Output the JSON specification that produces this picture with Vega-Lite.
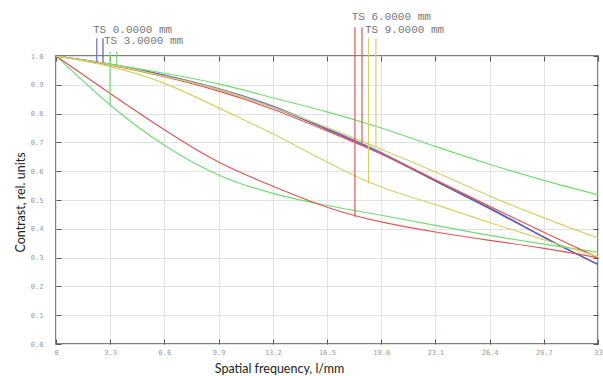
{
  "$schema": "https://vega.github.io/schema/vega-lite/v6.json",
  "width": 542,
  "height": 288,
  "autosize": "none",
  "padding": {"left": 56, "top": 56, "right": 5, "bottom": 32},
  "background": "white",
  "config": {
    "view": {"stroke": "#555555", "strokeWidth": 1.5},
    "axis": {"labelFont": "DejaVu Sans Mono", "labelFontSize": 7, "labelColor": "#999999", "gridColor": "#e2e2e2", "gridWidth": 1, "tickColor": "#555555", "domain": false, "titleFont": "Lato", "titleFontSize": 12.5, "titleFontWeight": "normal", "titleColor": "#222222"}
  },
  "datasets": {
    "curves": [
      {"s": "0T", "f": 0, "v": 1.0}, {"s": "0T", "f": 3.3, "v": 0.972}, {"s": "0T", "f": 6.6, "v": 0.934}, {"s": "0T", "f": 9.9, "v": 0.887}, {"s": "0T", "f": 13.2, "v": 0.826}, {"s": "0T", "f": 16.5, "v": 0.748}, {"s": "0T", "f": 19.8, "v": 0.665}, {"s": "0T", "f": 23.1, "v": 0.568}, {"s": "0T", "f": 26.4, "v": 0.473}, {"s": "0T", "f": 29.7, "v": 0.372}, {"s": "0T", "f": 33, "v": 0.275},
      {"s": "0S", "f": 0, "v": 1.0}, {"s": "0S", "f": 3.3, "v": 0.971}, {"s": "0S", "f": 6.6, "v": 0.932}, {"s": "0S", "f": 9.9, "v": 0.884}, {"s": "0S", "f": 13.2, "v": 0.822}, {"s": "0S", "f": 16.5, "v": 0.745}, {"s": "0S", "f": 19.8, "v": 0.661}, {"s": "0S", "f": 23.1, "v": 0.565}, {"s": "0S", "f": 26.4, "v": 0.47}, {"s": "0S", "f": 29.7, "v": 0.37}, {"s": "0S", "f": 33, "v": 0.277},
      {"s": "3T", "f": 0, "v": 1.0}, {"s": "3T", "f": 3.3, "v": 0.83}, {"s": "3T", "f": 6.6, "v": 0.69}, {"s": "3T", "f": 9.9, "v": 0.587}, {"s": "3T", "f": 13.2, "v": 0.523}, {"s": "3T", "f": 16.5, "v": 0.481}, {"s": "3T", "f": 19.8, "v": 0.447}, {"s": "3T", "f": 23.1, "v": 0.412}, {"s": "3T", "f": 26.4, "v": 0.377}, {"s": "3T", "f": 29.7, "v": 0.347}, {"s": "3T", "f": 33, "v": 0.318},
      {"s": "3S", "f": 0, "v": 1.0}, {"s": "3S", "f": 3.3, "v": 0.972}, {"s": "3S", "f": 6.6, "v": 0.94}, {"s": "3S", "f": 9.9, "v": 0.903}, {"s": "3S", "f": 13.2, "v": 0.855}, {"s": "3S", "f": 16.5, "v": 0.806}, {"s": "3S", "f": 19.8, "v": 0.75}, {"s": "3S", "f": 23.1, "v": 0.686}, {"s": "3S", "f": 26.4, "v": 0.624}, {"s": "3S", "f": 29.7, "v": 0.568}, {"s": "3S", "f": 33, "v": 0.518},
      {"s": "6T", "f": 0, "v": 1.0}, {"s": "6T", "f": 3.3, "v": 0.87}, {"s": "6T", "f": 6.6, "v": 0.744}, {"s": "6T", "f": 9.9, "v": 0.632}, {"s": "6T", "f": 13.2, "v": 0.548}, {"s": "6T", "f": 16.5, "v": 0.475}, {"s": "6T", "f": 19.8, "v": 0.424}, {"s": "6T", "f": 23.1, "v": 0.389}, {"s": "6T", "f": 26.4, "v": 0.36}, {"s": "6T", "f": 29.7, "v": 0.332}, {"s": "6T", "f": 33, "v": 0.3},
      {"s": "6S", "f": 0, "v": 1.0}, {"s": "6S", "f": 3.3, "v": 0.968}, {"s": "6S", "f": 6.6, "v": 0.928}, {"s": "6S", "f": 9.9, "v": 0.878}, {"s": "6S", "f": 13.2, "v": 0.815}, {"s": "6S", "f": 16.5, "v": 0.74}, {"s": "6S", "f": 19.8, "v": 0.66}, {"s": "6S", "f": 23.1, "v": 0.57}, {"s": "6S", "f": 26.4, "v": 0.478}, {"s": "6S", "f": 29.7, "v": 0.388}, {"s": "6S", "f": 33, "v": 0.3},
      {"s": "9T", "f": 0, "v": 1.0}, {"s": "9T", "f": 3.3, "v": 0.963}, {"s": "9T", "f": 6.6, "v": 0.905}, {"s": "9T", "f": 9.9, "v": 0.82}, {"s": "9T", "f": 13.2, "v": 0.73}, {"s": "9T", "f": 16.5, "v": 0.632}, {"s": "9T", "f": 19.8, "v": 0.545}, {"s": "9T", "f": 23.1, "v": 0.484}, {"s": "9T", "f": 26.4, "v": 0.422}, {"s": "9T", "f": 29.7, "v": 0.362}, {"s": "9T", "f": 33, "v": 0.303},
      {"s": "9S", "f": 0, "v": 1.0}, {"s": "9S", "f": 3.3, "v": 0.97}, {"s": "9S", "f": 6.6, "v": 0.93}, {"s": "9S", "f": 9.9, "v": 0.884}, {"s": "9S", "f": 13.2, "v": 0.822}, {"s": "9S", "f": 16.5, "v": 0.752}, {"s": "9S", "f": 19.8, "v": 0.676}, {"s": "9S", "f": 23.1, "v": 0.597}, {"s": "9S", "f": 26.4, "v": 0.514}, {"s": "9S", "f": 29.7, "v": 0.438}, {"s": "9S", "f": 33, "v": 0.368}
    ],
    "markers": [
      {"s": "0T", "f": 2.48, "top": 1.062, "bot": 0.98},
      {"s": "0S", "f": 2.86, "top": 1.062, "bot": 0.978},
      {"s": "3T", "f": 3.29, "top": 1.015, "bot": 0.83},
      {"s": "3S", "f": 3.7, "top": 1.015, "bot": 0.966},
      {"s": "6T", "f": 18.2, "top": 1.1, "bot": 0.441},
      {"s": "6S", "f": 18.63, "top": 1.1, "bot": 0.7},
      {"s": "9T", "f": 19.03, "top": 1.061, "bot": 0.557},
      {"s": "9S", "f": 19.48, "top": 1.061, "bot": 0.682}
    ],
    "labels": [
      {"f": 2.25, "y": 1.09, "t": "TS 0.0000 mm"},
      {"f": 2.92, "y": 1.052, "t": "TS 3.0000 mm"},
      {"f": 18.0, "y": 1.135, "t": "TS 6.0000 mm"},
      {"f": 18.81, "y": 1.09, "t": "TS 9.0000 mm"}
    ]
  },
  "resolve": {"axis": {"x": "independent", "y": "independent"}},
  "layer": [
    {
      "data": {"name": "curves"},
      "mark": {"type": "line", "interpolate": "natural", "strokeWidth": 1.2, "clip": true},
      "encoding": {
        "x": {"field": "f", "type": "quantitative", "scale": {"domain": [0, 33], "nice": false, "zero": false},
          "axis": {"values": [0, 3.3, 6.6, 9.9, 13.2, 16.5, 19.8, 23.1, 26.4, 29.7, 33], "grid": true, "tickSize": -5, "labelPadding": 9, "labelExpr": "datum.value == 0 || datum.value == 33 ? format(datum.value, 'd') : format(datum.value, '.1f')", "title": "Spatial frequency, l/mm", "titleX": 223, "titleY": 24, "titleBaseline": "middle", "labelFlush": false}},
        "y": {"field": "v", "type": "quantitative", "scale": {"domain": [0, 1], "nice": false, "zero": false},
          "axis": {"values": [0, 0.1, 0.2, 0.3, 0.4, 0.5, 0.6, 0.7, 0.8, 0.9, 1.0], "format": ".1f", "grid": true, "tickSize": -5, "labelPadding": 18, "title": "Contrast, rel. units", "titleX": -36, "titleY": 146, "titleBaseline": "middle", "labelFlush": false}},
        "color": {"field": "s", "type": "nominal", "legend": null,
          "scale": {"domain": ["0T", "0S", "3T", "3S", "6T", "6S", "9T", "9S"], "range": ["#6e6ed2", "#5a5aa8", "#72dc72", "#72dc72", "#de5656", "#de5656", "#d2d266", "#d2d266"]}},
        "detail": {"field": "s"}
      }
    },
    {
      "data": {"name": "markers"},
      "mark": {"type": "rule", "strokeWidth": 1.2},
      "encoding": {
        "x": {"field": "f", "type": "quantitative", "axis": {"orient": "top", "values": [0, 3.3, 6.6, 9.9, 13.2, 16.5, 19.8, 23.1, 26.4, 29.7, 33], "labels": false, "grid": false, "tickSize": -5, "title": null}},
        "y": {"field": "top", "type": "quantitative", "axis": {"orient": "right", "values": [0, 0.1, 0.2, 0.3, 0.4, 0.5, 0.6, 0.7, 0.8, 0.9, 1.0], "labels": false, "grid": false, "tickSize": -5, "title": null}},
        "y2": {"field": "bot"},
        "color": {"field": "s", "type": "nominal", "legend": null}
      }
    },
    {
      "data": {"name": "labels"},
      "mark": {"type": "text", "align": "left", "baseline": "middle", "font": "Liberation Mono", "fontSize": 11, "color": "#777777"},
      "encoding": {
        "x": {"field": "f", "type": "quantitative", "axis": null},
        "y": {"field": "y", "type": "quantitative", "axis": null},
        "text": {"field": "t"}
      }
    }
  ]
}
